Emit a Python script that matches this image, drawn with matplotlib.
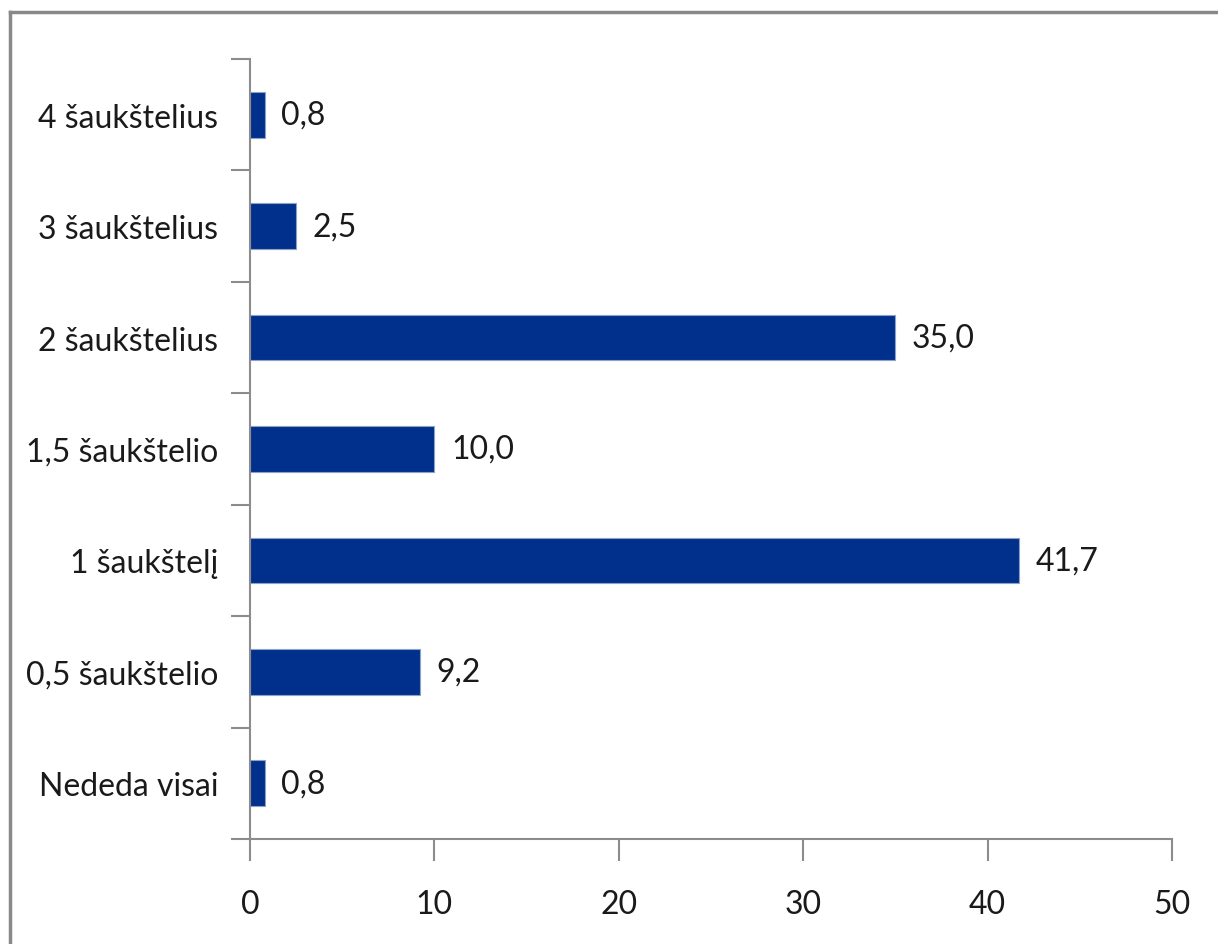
import matplotlib
matplotlib.use('Agg')

import matplotlib.pyplot as plt
from matplotlib.lines import Line2D

categories = ['Nededa visai', '0,5 šaukštelio', '1 šaukštelį', '1,5 šaukštelio',
              '2 šaukštelius', '3 šaukštelius', '4 šaukštelius']
values = [0.8, 9.2, 41.7, 10.0, 35.0, 2.5, 0.8]
x_ticks = [0, 10, 20, 30, 40, 50]

plt.rcParams['font.family'] = ['Lato', 'DejaVu Sans']

bar_color = '#00308c'
axis_color = '#8c8c8c'
text_color = '#1a1a1a'
fs = 23

fig = plt.figure(figsize=(12.18, 9.45), dpi=100)
ax = fig.add_axes([250 / 1218, 1 - 840 / 945, (1172 - 250) / 1218, (840 - 60) / 945])

pos = list(range(len(categories)))
ax.barh(pos, values, height=0.41, color=bar_color, edgecolor='#8da0c8', linewidth=0.8)

for y, v in zip(pos, values):
    ax.text(v + 0.9, y, f'{v:.1f}'.replace('.', ','), va='center', ha='left',
            fontsize=fs, color=text_color)

ax.set_xlim(0, 50)
ax.set_ylim(-0.5, len(categories) - 0.5)
ax.set_xticks(x_ticks)
ax.set_xticklabels([str(t) for t in x_ticks], fontsize=fs, color=text_color)

# category labels centred on the bars, tick marks on the band boundaries
ax.set_yticks(pos)
ax.set_yticklabels(categories, fontsize=fs, color=text_color)
ax.tick_params(axis='y', length=0, pad=23)
ax.set_yticks([p - 0.5 for p in range(len(categories) + 1)], minor=True)
ax.tick_params(axis='y', which='minor', length=14, width=1.5, color=axis_color)
ax.tick_params(axis='x', length=16, width=1.5, color=axis_color, pad=20)

for side in ['top', 'right']:
    ax.spines[side].set_visible(False)
for side in ['left', 'bottom']:
    ax.spines[side].set_color(axis_color)
    ax.spines[side].set_linewidth(1.5)

# frame around the chart area (top and left edges)
fig.add_artist(Line2D([9.5 / 1218, 1], [1 - 12.5 / 945, 1 - 12.5 / 945],
                      transform=fig.transFigure, color='#888888', linewidth=2.5))
fig.add_artist(Line2D([9.5 / 1218, 9.5 / 1218], [0, 1 - 12.5 / 945],
                      transform=fig.transFigure, color='#888888', linewidth=2.5))

fig.savefig('out.png', dpi=100, facecolor='white')
